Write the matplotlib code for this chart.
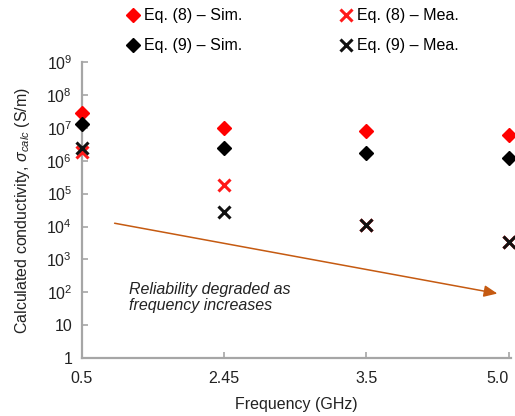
import numpy as np
import matplotlib
matplotlib.use("Agg")
import matplotlib.pyplot as plt

plt.rcParams['font.family'] = ['Liberation Sans', 'DejaVu Sans']
plt.rcParams['mathtext.fontset'] = 'custom'
plt.rcParams['mathtext.rm'] = 'Liberation Sans'
plt.rcParams['mathtext.it'] = 'Liberation Sans:italic'

# data
freq_labels = ['0.5', '2.45', '3.5', '5.0']
eq8_sim = [2.8e7, 1.0e7, 8.0e6, 6.0e6]
eq9_sim = [1.35e7, 2.4e6, 1.7e6, 1.2e6]
eq8_mea = [1.9e6, 1.8e5, 1.1e4, 3.5e3]
eq9_mea = [2.4e6, 2.8e4, 1.1e4, 3.5e3]

ytick_vals = [1, 10, 1e2, 1e3, 1e4, 1e5, 1e6, 1e7, 1e8, 1e9]
ytick_labels = ['1', '10', '$10^2$', '$10^3$', '$10^4$', '$10^5$',
                '$10^6$', '$10^7$', '$10^8$', '$10^9$']

# trend arrow (start, end) in axis units
arrow_start = (0.23, 1.26e4)
arrow_end = (2.92, 92)

x = np.arange(len(freq_labels))
axcol = '#a6a6a6'

fig = plt.figure(figsize=(5.15, 4.16), dpi=100)
ax = fig.add_axes([0.159, 0.139, 0.833, 0.712])

ax.plot(x, eq8_mea, 'x', color='#ff1a1a', ms=8, mew=2.2, label='Eq. (8) – Mea.', zorder=3, clip_on=False)
ax.plot(x, eq9_mea, 'x', color='#111111', ms=8, mew=2.2, label='Eq. (9) – Mea.', zorder=4, clip_on=False)
ax.plot(x, eq8_sim, 'D', color='#ff0000', ms=7, label='Eq. (8) – Sim.', zorder=5, clip_on=False)
ax.plot(x, eq9_sim, 'D', color='#000000', ms=7, label='Eq. (9) – Sim.', zorder=5, clip_on=False)

ax.set_yscale('log')
ax.set_ylim(1, 1e9)
ax.set_xlim(0, 3.015)
ax.set_yticks(ytick_vals)
ax.set_yticklabels(ytick_labels)
ax.yaxis.set_minor_locator(matplotlib.ticker.NullLocator())
ax.set_xticks(x)
ax.set_xticklabels(freq_labels)
ax.get_xticklabels()[-1].set_horizontalalignment('right')
ax.get_xticklabels()[-1].set_x(x[-1])

for s in ['top', 'right']:
    ax.spines[s].set_visible(False)
for s in ['left', 'bottom']:
    ax.spines[s].set_color(axcol)
    ax.spines[s].set_linewidth(1.6)
ax.tick_params(direction='in', length=4, width=1.2, color=axcol,
               labelsize=11.5, labelcolor='#222222', pad=7)
ax.tick_params(axis='x', pad=9)

ax.set_xlabel('Frequency (GHz)', fontsize=11.5, color='#222222', labelpad=8)
ax.set_ylabel(r'Calculated conductivity, $\mathit{\sigma_{calc}}$ (S/m)',
              fontsize=11.5, color='#222222', labelpad=10)

ax.annotate('', xy=arrow_end, xytext=arrow_start,
            arrowprops=dict(arrowstyle='-|>,head_length=0.8,head_width=0.35',
                            color='#c55a11', lw=1.1, shrinkA=0, shrinkB=0))
ax.text(0.33, 70, 'Reliability degraded as\nfrequency increases', fontsize=11.5,
        style='italic', color='#222222', va='center', ha='left', linespacing=1.15)

h, l = ax.get_legend_handles_labels()
order = [2, 3, 0, 1]
fig.legend([h[i] for i in order], [l[i] for i in order], ncol=2, frameon=False,
           loc='center', bbox_to_anchor=(0.565, 0.926), fontsize=11.5,
           handletextpad=0.1, handlelength=1.2, columnspacing=5.9,
           labelspacing=0.95)

fig.savefig('out.png', dpi=100)
